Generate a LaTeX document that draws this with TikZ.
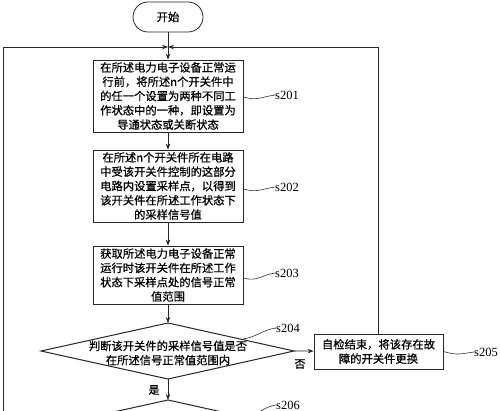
\documentclass[tikz,border=0pt]{standalone}
\usepackage{fontspec}
\setmainfont{Liberation Serif}
\newfontfamily\cjk[FakeBold=0.6]{Noto Sans CJK SC}
\usetikzlibrary{arrows.meta}
\begin{document}
\begin{tikzpicture}[x=1pt,y=-1pt,
  every node/.style={inner sep=0pt},
  line/.style={draw=black!85, line width=0.8pt},
  arr/.style={line, -{Stealth[length=6pt,width=4.5pt]}},
  box/.style={line, rectangle, align=center, font=\cjk\fontsize{11.3}{14.3}\selectfont},
  cjklab/.style={font=\cjk\fontsize{11}{13}\selectfont},
  lab/.style={font=\fontsize{12.5}{14}\selectfont, anchor=west},
  squig/.style={draw=black!80, line width=0.6pt}]
\clip (0,0) rectangle (500,411);
\fill[white] (0,0) rectangle (500,411);
% nodes
\node[box, rounded corners=15pt, minimum width=70pt, minimum height=30pt] (start) at (168,17) {开始};
\coordinate (j) at (168,47);
\node[box, minimum width=150pt, minimum height=72pt] (b1) at (168,96)
  {在所述电力电子设备正常运\\行前，将所述n个开关件中\\的任一个设置为两种不同工\\作状态中的一种，即设置为\\导通状态或关断状态};
\node[box, minimum width=150pt, minimum height=72pt] (b2) at (168,186)
  {在所述n个开关件所在电路\\中受该开关件控制的这部分\\电路内设置采样点，以得到\\该开关件在所述工作状态下\\的采样信号值};
\node[box, minimum width=150pt, minimum height=58pt] (b3) at (168,275)
  {获取所述电力电子设备正常\\运行时该开关件在所述工作\\状态下采样点处的信号正常\\值范围};
\coordinate (dT) at (168,323);
\coordinate (dR) at (294,351);
\coordinate (dB) at (168,379);
\coordinate (dL) at (41,351);
\draw[line, line width=1pt] (dT) -- (dR) -- (dB) -- (dL) -- cycle;
\node[box, draw=none] (d1) at (168,353) {判断该开关件的采样信号值是否\\在所述信号正常值范围内};
\node[box, minimum width=129pt, minimum height=35pt] (b5) at (378.5,351.5)
  {自检结束，将该存在故\\障的开关件更换};
\coordinate (eT) at (168,400);
\coordinate (eR) at (294,428);
\coordinate (eB) at (168,456);
\coordinate (eL) at (41,428);
\draw[line, line width=1pt] (eT) -- (eR) -- (eB) -- (eL) -- cycle;
% connectors
\draw[arr] (start) -- (b1);
\coordinate (lc) at (3,420);
\draw[arr] (lc) |- (j);
\draw[arr] (b5.north) |- (j);
\draw[arr] (b1) -- (b2);
\draw[arr] (b2) -- (b3);
\draw[arr] (b3) -- (dT);
\draw[arr] (dR) -- (b5);
\node[cjklab] (no) at (300,364) {否};
\draw[arr] (dB) -- (eT);
\node[cjklab] (yes) at (154,390) {是};
% step labels
\node[lab] (l1) at (275,95) {s201};
\node[lab] (l2) at (275,187) {s202};
\node[lab] (l3) at (275,273) {s203};
\node[lab] (l4) at (276,328) {s204};
\node[lab] (l5) at (474,352) {s205};
\node[lab] (l6) at (276,405) {s206};
\draw[squig] (b1.east) ++(0,1) .. controls +(14,4) and +(-14,2) .. (l1.west);
\draw[squig] (b2.east) ++(0,3) .. controls +(14,4) and +(-14,2) .. (l2.west);
\draw[squig] (b3.east) ++(0,3) .. controls +(14,4) and +(-14,2) .. (l3.west);
\coordinate (s4) at (243,339);
\draw[squig] (s4) .. controls +(14,-2) and +(-14,2) .. (l4.west);
\draw[squig] (b5.east) .. controls +(14,4) and +(-14,2) .. (l5.west);
\coordinate (s6) at (250,416);
\draw[squig] (s6) .. controls +(12,-4) and +(-12,2) .. (l6.west);
\end{tikzpicture}
\end{document}
